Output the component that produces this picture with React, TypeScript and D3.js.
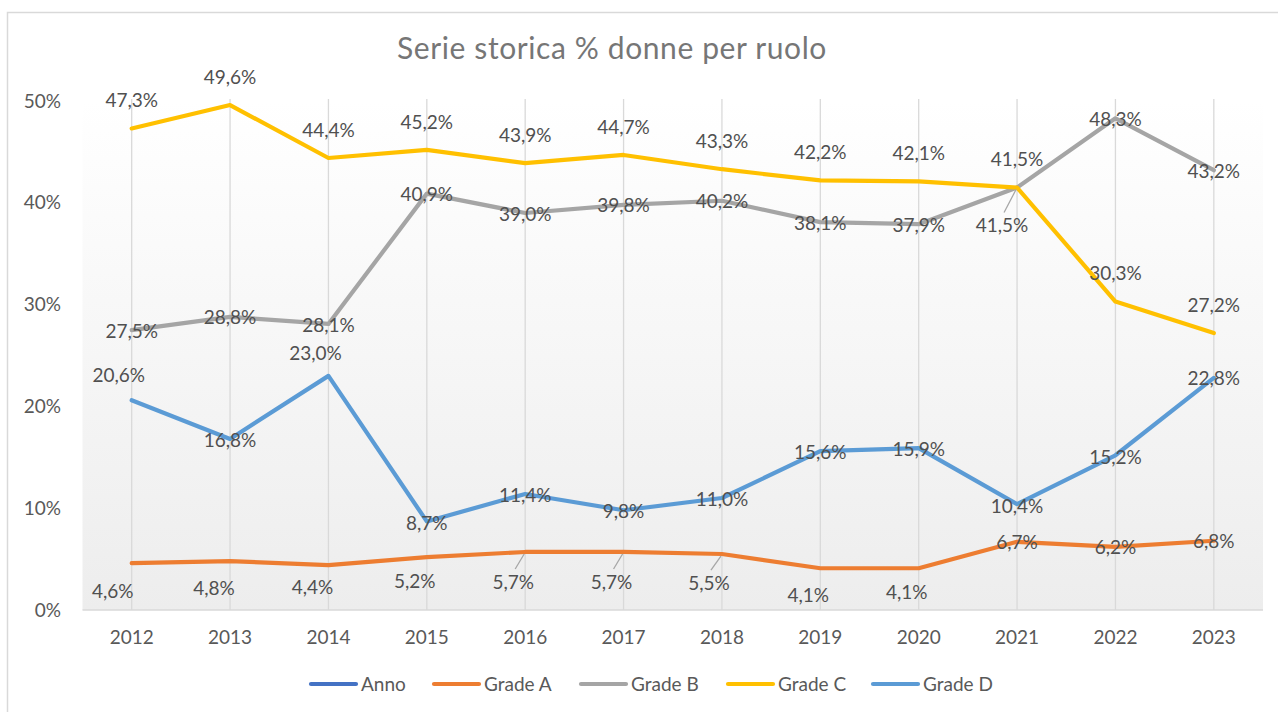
import * as d3 from "d3";

// chart data
const years = ["2012", "2013", "2014", "2015", "2016", "2017", "2018", "2019", "2020", "2021", "2022", "2023"];
const gradeA = [4.6, 4.8, 4.4, 5.2, 5.7, 5.7, 5.5, 4.1, 4.1, 6.7, 6.2, 6.8];
const gradeB = [27.5, 28.8, 28.1, 40.9, 39.0, 39.8, 40.2, 38.1, 37.9, 41.5, 48.3, 43.2];
const gradeC = [47.3, 49.6, 44.4, 45.2, 43.9, 44.7, 43.3, 42.2, 42.1, 41.5, 30.3, 27.2];
const gradeD = [20.6, 16.8, 23.0, 8.7, 11.4, 9.8, 11.0, 15.6, 15.9, 10.4, 15.2, 22.8];
const yTicks = [0, 10, 20, 30, 40, 50];
const title = "Serie storica % donne per ruolo";

const W = 1278;
const H = 712;
const FONT = "Lato, 'Open Sans', sans-serif";

interface Series {
  name: string;
  color: string;
  values: number[] | null;
  // label offset from the point [dx, dy], optional leader line
  offsets: [number, number, boolean?][];
}

const series: Series[] = [
  { name: "Anno", color: "#4472C4", values: null, offsets: [] },
  {
    name: "Grade A",
    color: "#ED7D31",
    values: gradeA,
    offsets: [
      [-19, 28], [-16, 27], [-16, 22], [-12, 24], [-12, 30, true], [-12, 30, true],
      [-13, 29, true], [-12, 27], [-12, 24], [0, 1], [0, 0], [0, 1],
    ],
  },
  {
    name: "Grade B",
    color: "#A5A5A5",
    values: gradeB,
    offsets: [
      [0, 1], [0, 1], [0, 1], [0, 1], [0, 1], [0, 1], [0, 1], [0, 1], [0, 1],
      [-15, 38, true], [0, 1], [0, 1],
    ],
  },
  {
    name: "Grade C",
    color: "#FFC000",
    values: gradeC,
    offsets: years.map(() => [0, -28] as [number, number]),
  },
  {
    name: "Grade D",
    color: "#5B9BD5",
    values: gradeD,
    offsets: [
      [-13, -25], [0, 1], [-13, -23], [0, 2], [0, 1], [0, 1], [0, 1], [0, 1], [0, 1],
      [0, 2], [0, 2], [0, 0],
    ],
  },
];

const fmt = (v: number) => v.toFixed(1).replace(".", ",") + "%";

export default function App() {
  const x = d3.scaleBand().domain(years).range([82.5, 1263]).padding(0);
  const y = d3.scaleLinear().domain([0, 50]).range([610, 101]);
  const cx = (yr: string) => (x(yr) ?? 0) + x.bandwidth() / 2;

  const line = d3
    .line<number>()
    .x((_, i) => cx(years[i]))
    .y((d) => y(d));

  const legendX = [310, 433, 580, 727, 872];

  return (
    <svg
      width={W}
      height={H}
      style={{ position: "absolute", left: 0, top: 0, background: "#fff" }}
      fontFamily={FONT}
    >
      <defs>
        <linearGradient id="plotBg" x1="0" y1="0" x2="0" y2="1">
          <stop offset="0%" stopColor="#ffffff" />
          <stop offset="17%" stopColor="#fcfcfc" />
          <stop offset="100%" stopColor="#ededed" />
        </linearGradient>
      </defs>

      {/* chart border */}
      <rect x={7.5} y={12.5} width={1300} height={740} fill="#fff" stroke="#d9d9d9" strokeWidth={1.5} />

      {/* plot area */}
      <rect x={82.5} y={y(50)} width={1263 - 82.5} height={y(0) - y(50)} fill="url(#plotBg)" />

      {/* vertical gridlines */}
      {years.map((yr) => (
        <line key={yr} x1={cx(yr)} x2={cx(yr)} y1={y(50) - 2} y2={y(0)} stroke="#d9d9d9" strokeWidth={1.3} />
      ))}
      <line x1={82.5} x2={1263} y1={y(0)} y2={y(0)} stroke="#d9d9d9" strokeWidth={1.5} />

      {/* title */}
      <text x={612} y={59} textAnchor="middle" fontSize={30} letterSpacing={0.6} fill="#767676">
        {title}
      </text>

      {/* y axis labels */}
      {yTicks.map((t) => (
        <text key={t} x={61} y={y(t)} dy="0.35em" textAnchor="end" fontSize={19} fill="#595959">
          {t + "%"}
        </text>
      ))}

      {/* x axis labels */}
      {years.map((yr) => (
        <text key={yr} x={cx(yr)} y={637} dy="0.35em" textAnchor="middle" fontSize={19} fill="#595959">
          {yr}
        </text>
      ))}

      {/* lines */}
      {series.map((s) =>
        s.values ? (
          <path
            key={s.name}
            d={line(s.values) ?? ""}
            fill="none"
            stroke={s.color}
            strokeWidth={4.2}
            strokeLinejoin="round"
            strokeLinecap="round"
          />
        ) : null
      )}

      {/* data labels */}
      {series.map((s) =>
        s.values
          ? s.values.map((v, i) => {
              const [dx, dy, leader] = s.offsets[i];
              const px = cx(years[i]);
              const py = y(v);
              return (
                <g key={s.name + i}>
                  {leader && (
                    <line
                      x1={px + dx + 2}
                      y1={py + dy - 13}
                      x2={px - 1}
                      y2={py + 2}
                      stroke="#a6a6a6"
                      strokeWidth={1.3}
                    />
                  )}
                  <text
                    x={px + dx}
                    y={py + dy}
                    dy="0.35em"
                    textAnchor="middle"
                    fontSize={19}
                    fill="#505050"
                  >
                    {fmt(v)}
                  </text>
                </g>
              );
            })
          : null
      )}

      {/* legend */}
      {series.map((s, i) => (
        <g key={s.name} transform={`translate(${legendX[i]},684)`}>
          <line x1={1} x2={46} y1={0} y2={0} stroke={s.color} strokeWidth={4.2} strokeLinecap="round" />
          <text x={51} y={0} dy="0.35em" fontSize={19} fill="#595959">
            {s.name}
          </text>
        </g>
      ))}
    </svg>
  );
}
